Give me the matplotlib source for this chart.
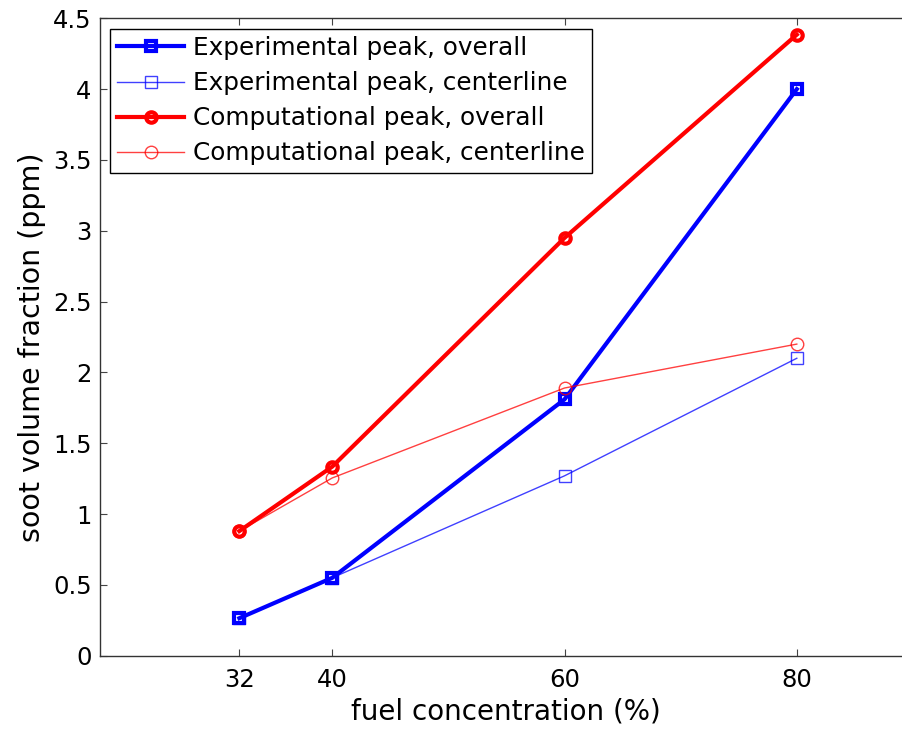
import matplotlib.pyplot as plt

plt.rcParams['font.family'] = ['DejaVu Sans']
plt.rcParams['savefig.bbox'] = 'standard'

conc = [32, 40, 60, 80]
exp_overall = [0.265, 0.55, 1.81, 4.0]
exp_center = [0.265, 0.55, 1.27, 2.10]
comp_overall = [0.88, 1.335, 2.95, 4.385]
comp_center = [0.88, 1.255, 1.89, 2.20]

fig = plt.figure(figsize=(9.03, 7.32), dpi=100)
# axes run well past the right edge of the figure, same x scale as 20..90 over 813 px
ax_w = 850
ax = fig.add_axes([0.1107, 0.1042, ax_w / 903, 0.8708])

ax.plot(conc, exp_overall, 'b-s', lw=3.0, ms=7, mew=3.0, mfc='none',
        label='Experimental peak, overall')
ax.plot(conc, exp_center, 'b-s', lw=1.0, ms=8, mew=1.0, mfc='none', alpha=0.75,
        label='Experimental peak, centerline')
ax.plot(conc, comp_overall, 'r-o', lw=3.0, ms=7.5, mew=3.0, mfc='none',
        label='Computational peak, overall')
ax.plot(conc, comp_center, 'r-o', lw=1.0, ms=9, mew=1.0, mfc='none', alpha=0.75,
        label='Computational peak, centerline')

ax.set_xlim(20, 20 + 70 * ax_w / 813)
ax.set_ylim(0, 4.5)
ax.set_xticks(conc)
ax.set_yticks([0, 0.5, 1, 1.5, 2, 2.5, 3, 3.5, 4, 4.5])
ax.set_yticklabels(['0', '0.5', '1', '1.5', '2', '2.5', '3', '3.5', '4', '4.5'])
ax.tick_params(direction='in', length=5, width=0.8, top=True, right=False,
               labelsize=17.5, color='#444444')
ax.tick_params(axis='x', pad=9)
ax.tick_params(axis='y', pad=6)
ax.spines['right'].set_visible(False)
for s in ax.spines.values():
    s.set_linewidth(1.0)
    s.set_color('#333333')

# label positions in axes fractions (pixel offsets over axes size)
ax.set_xlabel('fuel concentration (%)', fontsize=20)
ax.xaxis.set_label_coords(406 / ax_w, -0.066)
ax.set_ylabel('soot volume fraction (ppm)', fontsize=20.5)
ax.yaxis.set_label_coords(-54 / ax_w, 0.484)

leg = ax.legend(loc='upper left', bbox_to_anchor=(10 / ax_w, 0.9837),
                borderaxespad=0, fontsize=17.8, fancybox=False, framealpha=1,
                edgecolor='black', handlelength=2.7, handletextpad=0.35,
                borderpad=0.3, labelspacing=0.45)
leg.get_frame().set_linewidth(1.0)

fig.savefig('out.png', dpi=100)
